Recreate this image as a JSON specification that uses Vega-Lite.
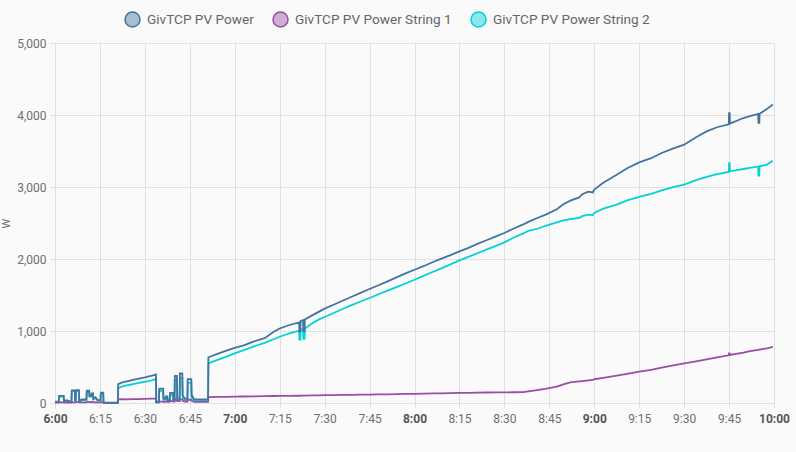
{
  "$schema": "https://vega.github.io/schema/vega-lite/v6.json",
  "width": 719,
  "height": 360,
  "autosize": {"type": "none"},
  "padding": {"left": 55, "top": 43, "right": 22, "bottom": 49},
  "background": "#fafafa",
  "data": {
    "values": [
      {"m": 0, "P": 20, "S1": 5, "S2": 15},
      {"m": 1.3, "P": 20, "S1": 5, "S2": 15},
      {"m": 1.4, "P": 100, "S1": 10, "S2": 90},
      {"m": 2.9, "P": 100, "S1": 10, "S2": 90},
      {"m": 3.0, "P": 25, "S1": 5, "S2": 20},
      {"m": 4.0, "P": 40, "S1": 8, "S2": 32},
      {"m": 5.0, "P": 20, "S1": 5, "S2": 15},
      {"m": 5.5, "P": 20, "S1": 5, "S2": 15},
      {"m": 5.6, "P": 175, "S1": 10, "S2": 165},
      {"m": 6.6, "P": 175, "S1": 10, "S2": 165},
      {"m": 6.7, "P": 40, "S1": 10, "S2": 30},
      {"m": 6.9, "P": 40, "S1": 10, "S2": 30},
      {"m": 7.0, "P": 180, "S1": 15, "S2": 165},
      {"m": 8.0, "P": 180, "S1": 15, "S2": 165},
      {"m": 8.1, "P": 30, "S1": 10, "S2": 20},
      {"m": 9.0, "P": 50, "S1": 10, "S2": 40},
      {"m": 10.5, "P": 50, "S1": 10, "S2": 40},
      {"m": 10.6, "P": 170, "S1": 15, "S2": 150},
      {"m": 11.4, "P": 170, "S1": 15, "S2": 150},
      {"m": 11.5, "P": 100, "S1": 12, "S2": 88},
      {"m": 12.1, "P": 100, "S1": 12, "S2": 88},
      {"m": 12.2, "P": 135, "S1": 15, "S2": 120},
      {"m": 12.7, "P": 135, "S1": 15, "S2": 120},
      {"m": 12.8, "P": 60, "S1": 10, "S2": 50},
      {"m": 13.5, "P": 80, "S1": 10, "S2": 70},
      {"m": 14.2, "P": 40, "S1": 8, "S2": 32},
      {"m": 15.2, "P": 40, "S1": 8, "S2": 32},
      {"m": 15.3, "P": 145, "S1": 12, "S2": 130},
      {"m": 16.1, "P": 145, "S1": 12, "S2": 130},
      {"m": 16.2, "P": 5, "S1": 2, "S2": 3},
      {"m": 21.0, "P": 5, "S1": 2, "S2": 3},
      {"m": 21.1, "P": 263, "S1": 50, "S2": 205},
      {"m": 22.5, "P": 285, "S1": 52, "S2": 230},
      {"m": 24, "P": 300, "S1": 50, "S2": 245},
      {"m": 26, "P": 320, "S1": 55, "S2": 262},
      {"m": 28, "P": 340, "S1": 55, "S2": 280},
      {"m": 30, "P": 355, "S1": 58, "S2": 295},
      {"m": 32, "P": 375, "S1": 60, "S2": 312},
      {"m": 33.7, "P": 395, "S1": 60, "S2": 335},
      {"m": 33.8, "P": 20, "S1": 10, "S2": 10},
      {"m": 34.7, "P": 20, "S1": 10, "S2": 10},
      {"m": 34.8, "P": 200, "S1": 20, "S2": 170},
      {"m": 36.1, "P": 200, "S1": 20, "S2": 170},
      {"m": 36.2, "P": 60, "S1": 15, "S2": 45},
      {"m": 36.9, "P": 60, "S1": 15, "S2": 45},
      {"m": 37.0, "P": 90, "S1": 20, "S2": 65},
      {"m": 37.5, "P": 90, "S1": 20, "S2": 65},
      {"m": 37.6, "P": 40, "S1": 15, "S2": 25},
      {"m": 38.3, "P": 40, "S1": 15, "S2": 25},
      {"m": 38.4, "P": 140, "S1": 25, "S2": 110},
      {"m": 39.4, "P": 140, "S1": 25, "S2": 110},
      {"m": 39.5, "P": 50, "S1": 20, "S2": 30},
      {"m": 39.9, "P": 50, "S1": 20, "S2": 30},
      {"m": 40.0, "P": 375, "S1": 45, "S2": 320},
      {"m": 40.7, "P": 375, "S1": 45, "S2": 320},
      {"m": 40.8, "P": 60, "S1": 25, "S2": 35},
      {"m": 41.6, "P": 60, "S1": 25, "S2": 35},
      {"m": 41.7, "P": 410, "S1": 50, "S2": 350},
      {"m": 42.5, "P": 410, "S1": 50, "S2": 350},
      {"m": 42.6, "P": 110, "S1": 30, "S2": 80},
      {"m": 43.3, "P": 60, "S1": 20, "S2": 40},
      {"m": 44.2, "P": 60, "S1": 20, "S2": 40},
      {"m": 44.3, "P": 330, "S1": 45, "S2": 280},
      {"m": 45.5, "P": 330, "S1": 45, "S2": 280},
      {"m": 45.6, "P": 110, "S1": 30, "S2": 80},
      {"m": 46.5, "P": 50, "S1": 15, "S2": 35},
      {"m": 51.1, "P": 50, "S1": 15, "S2": 35},
      {"m": 51.2, "P": 635, "S1": 82, "S2": 550},
      {"m": 54, "P": 680, "S1": 84, "S2": 595},
      {"m": 57, "P": 725, "S1": 86, "S2": 640},
      {"m": 60, "P": 765, "S1": 88, "S2": 690},
      {"m": 63, "P": 800, "S1": 90, "S2": 735},
      {"m": 66, "P": 850, "S1": 92, "S2": 780},
      {"m": 70, "P": 900, "S1": 95, "S2": 835},
      {"m": 73, "P": 990, "S1": 97, "S2": 885},
      {"m": 75, "P": 1035, "S1": 98, "S2": 920},
      {"m": 78, "P": 1080, "S1": 100, "S2": 965},
      {"m": 81.5, "P": 1120, "S1": 101, "S2": 1005},
      {"m": 81.6, "P": 990, "S1": 101, "S2": 880},
      {"m": 81.9, "P": 990, "S1": 101, "S2": 880},
      {"m": 82.0, "P": 1140, "S1": 102, "S2": 1020},
      {"m": 82.8, "P": 1150, "S1": 102, "S2": 1030},
      {"m": 82.9, "P": 1000, "S1": 102, "S2": 890},
      {"m": 83.3, "P": 1000, "S1": 102, "S2": 890},
      {"m": 83.4, "P": 1160, "S1": 103, "S2": 1035},
      {"m": 86, "P": 1220, "S1": 105, "S2": 1110},
      {"m": 88.3, "P": 1273, "S1": 106, "S2": 1165},
      {"m": 90, "P": 1310, "S1": 108, "S2": 1195},
      {"m": 93, "P": 1365, "S1": 110, "S2": 1250},
      {"m": 96, "P": 1420, "S1": 112, "S2": 1305},
      {"m": 99, "P": 1475, "S1": 113, "S2": 1360},
      {"m": 102, "P": 1530, "S1": 115, "S2": 1410},
      {"m": 105, "P": 1583, "S1": 117, "S2": 1458},
      {"m": 108, "P": 1635, "S1": 119, "S2": 1510},
      {"m": 111, "P": 1690, "S1": 121, "S2": 1560},
      {"m": 114, "P": 1745, "S1": 123, "S2": 1610},
      {"m": 117, "P": 1800, "S1": 126, "S2": 1660},
      {"m": 120, "P": 1851, "S1": 128, "S2": 1712},
      {"m": 123, "P": 1900, "S1": 130, "S2": 1765},
      {"m": 126, "P": 1955, "S1": 133, "S2": 1820},
      {"m": 129, "P": 2005, "S1": 135, "S2": 1870},
      {"m": 132, "P": 2055, "S1": 138, "S2": 1925},
      {"m": 135, "P": 2106, "S1": 140, "S2": 1981},
      {"m": 138, "P": 2155, "S1": 142, "S2": 2030},
      {"m": 141, "P": 2210, "S1": 144, "S2": 2080},
      {"m": 144, "P": 2260, "S1": 146, "S2": 2130},
      {"m": 147, "P": 2310, "S1": 147, "S2": 2180},
      {"m": 150, "P": 2361, "S1": 148, "S2": 2231},
      {"m": 153, "P": 2420, "S1": 149, "S2": 2295},
      {"m": 156.3, "P": 2480, "S1": 150, "S2": 2355},
      {"m": 158, "P": 2515, "S1": 160, "S2": 2390},
      {"m": 161, "P": 2570, "S1": 180, "S2": 2420},
      {"m": 164, "P": 2620, "S1": 200, "S2": 2465},
      {"m": 167.5, "P": 2690, "S1": 227, "S2": 2510},
      {"m": 169.7, "P": 2760, "S1": 260, "S2": 2535},
      {"m": 172, "P": 2810, "S1": 285, "S2": 2555},
      {"m": 175, "P": 2855, "S1": 300, "S2": 2570},
      {"m": 176, "P": 2900, "S1": 305, "S2": 2595},
      {"m": 178, "P": 2935, "S1": 315, "S2": 2615},
      {"m": 179.5, "P": 2925, "S1": 320, "S2": 2610},
      {"m": 180, "P": 2965, "S1": 330, "S2": 2640},
      {"m": 183, "P": 3060, "S1": 350, "S2": 2700},
      {"m": 187.5, "P": 3171, "S1": 380, "S2": 2755},
      {"m": 191, "P": 3260, "S1": 405, "S2": 2815},
      {"m": 195, "P": 3342, "S1": 435, "S2": 2862},
      {"m": 199, "P": 3400, "S1": 460, "S2": 2905},
      {"m": 202.5, "P": 3472, "S1": 490, "S2": 2954},
      {"m": 206, "P": 3530, "S1": 520, "S2": 2995},
      {"m": 210, "P": 3588, "S1": 550, "S2": 3033},
      {"m": 214, "P": 3690, "S1": 578, "S2": 3095},
      {"m": 217.5, "P": 3773, "S1": 605, "S2": 3140},
      {"m": 221, "P": 3830, "S1": 635, "S2": 3180},
      {"m": 224.9, "P": 3870, "S1": 662, "S2": 3210},
      {"m": 225, "P": 4025, "S1": 690, "S2": 3330},
      {"m": 225.2, "P": 4025, "S1": 690, "S2": 3330},
      {"m": 225.3, "P": 3880, "S1": 668, "S2": 3218},
      {"m": 229.8, "P": 3958, "S1": 700, "S2": 3250},
      {"m": 232, "P": 3985, "S1": 720, "S2": 3265},
      {"m": 234.7, "P": 4015, "S1": 738, "S2": 3285},
      {"m": 234.8, "P": 3890, "S1": 740, "S2": 3160},
      {"m": 235.1, "P": 3890, "S1": 740, "S2": 3160},
      {"m": 235.2, "P": 4017, "S1": 742, "S2": 3287},
      {"m": 237.6, "P": 4082, "S1": 760, "S2": 3310},
      {"m": 239.6, "P": 4146, "S1": 780, "S2": 3366}
    ]
  },
  "transform": [
    {"fold": ["S2", "S1", "P"], "as": ["series", "watts"]}
  ],
  "mark": {"type": "line", "interpolate": "linear", "strokeWidth": 1.8},
  "encoding": {
    "x": {
      "field": "m",
      "type": "quantitative",
      "scale": {"domain": [0, 240], "nice": false, "zero": false},
      "axis": {
        "title": null,
        "values": [0, 15, 30, 45, 60, 75, 90, 105, 120, 135, 150, 165, 180, 195, 210, 225, 240],
        "labelExpr": "(6 + floor(datum.value / 60)) + ':' + (datum.value % 60 == 0 ? '00' : datum.value % 60)",
        "labelFontWeight": {"condition": {"test": "datum.value % 60 == 0", "value": "bold"}, "value": "normal"},
        "labelColor": {"condition": {"test": "datum.value % 60 == 0", "value": "#555555"}, "value": "#6f6f6f"},
        "labelFlush": false,
        "labelOverlap": false,
        "labelPadding": 5
      }
    },
    "y": {
      "field": "watts",
      "type": "quantitative",
      "scale": {"domain": [0, 5000], "nice": false},
      "axis": {"title": "W", "values": [0, 1000, 2000, 3000, 4000, 5000], "format": ",.0f", "labelPadding": 4, "titlePadding": 5, "labelFlush": false}
    },
    "color": {
      "field": "series",
      "type": "nominal",
      "scale": {"domain": ["P", "S1", "S2"], "range": ["#44739e", "#984ea3", "#00d2d5"]},
      "legend": {
        "title": null,
        "orient": "none",
        "direction": "horizontal",
        "legendX": 69,
        "legendY": -32,
        "symbolType": "circle",
        "symbolSize": 225,
        "symbolStrokeWidth": 1.5,
        "labelFontSize": 13.6,
        "labelColor": "#666666",
        "labelFont": "Roboto",
        "labelOffset": 6,
        "labelLimit": 300,
        "columnPadding": 16,
        "labelExpr": "{'P': 'GivTCP PV Power', 'S1': 'GivTCP PV Power String 1', 'S2': 'GivTCP PV Power String 2'}[datum.label]",
        "encode": {
          "symbols": {
            "update": {
              "fill": {"scale": "color", "field": "value"},
              "fillOpacity": {"value": 0.45}
            }
          }
        }
      }
    }
  },
  "config": {
    "font": "Roboto",
    "view": {"stroke": null},
    "axis": {
      "domain": false,
      "gridColor": "#e0e0e0",
      "tickColor": "#e0e0e0",
      "tickSize": 5,
      "labelFont": "Roboto",
      "labelFontSize": 12,
      "labelColor": "#6f6f6f",
      "titleFont": "Roboto",
      "titleFontSize": 11,
      "titleFontWeight": "normal",
      "titleColor": "#666666"
    }
  }
}
